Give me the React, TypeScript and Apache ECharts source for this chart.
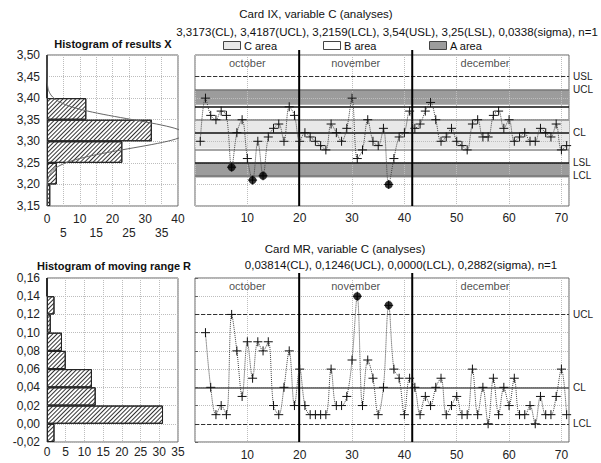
import React, { useEffect, useRef } from 'react';
import * as echarts from 'echarts';

// ---- data ----
const resultsX = [
  3.30, 3.40, 3.36, 3.35, 3.37, 3.36, 3.24, 3.32, 3.35, 3.26,
  3.21, 3.30, 3.22, 3.31, 3.33, 3.34, 3.30, 3.38, 3.36, 3.30,
  3.32, 3.31, 3.30, 3.29, 3.28, 3.34, 3.32, 3.30, 3.33, 3.40,
  3.26, 3.28, 3.35, 3.30, 3.29, 3.33, 3.20, 3.26, 3.31, 3.32,
  3.37, 3.33, 3.34, 3.37, 3.39, 3.35, 3.30, 3.31, 3.33, 3.30,
  3.29, 3.28, 3.34, 3.35, 3.31, 3.31, 3.36, 3.37, 3.33, 3.35,
  3.30, 3.31, 3.32, 3.30, 3.30, 3.33, 3.32, 3.31, 3.34, 3.28, 3.29,
];
// moving range, samples 2..71
const movingRange = [
  0.10, 0.04, 0.01, 0.02, 0.01, 0.12, 0.08, 0.03, 0.09,
  0.05, 0.09, 0.08, 0.09, 0.02, 0.01, 0.04, 0.08, 0.02, 0.06,
  0.02, 0.01, 0.01, 0.01, 0.01, 0.06, 0.02, 0.02, 0.03, 0.07,
  0.14, 0.02, 0.07, 0.05, 0.01, 0.04, 0.13, 0.06, 0.05, 0.01,
  0.05, 0.04, 0.01, 0.03, 0.02, 0.04, 0.05, 0.01, 0.02, 0.03,
  0.01, 0.01, 0.06, 0.01, 0.04, 0.00, 0.05, 0.01, 0.04, 0.02,
  0.05, 0.01, 0.01, 0.02, 0.00, 0.03, 0.01, 0.01, 0.03, 0.06, 0.01,
];
const histXBins = ['3,15-3,20', '3,20-3,25', '3,25-3,30', '3,30-3,35', '3,35-3,40', '3,40-3,45', '3,45-3,50'];
const histXCounts = [1, 3, 23, 32, 12, 0, 0];
const histRBins = ['-0,02-0,00', '0,00-0,02', '0,02-0,04', '0,04-0,06', '0,06-0,08', '0,08-0,10', '0,10-0,12', '0,12-0,14', '0,14-0,16'];
const histRCounts = [2, 31, 13, 12, 5, 4, 1, 2, 0];

const CL_X = 3.3173;
const UCL_X = 3.4187;
const LCL_X = 3.2159;
const SIGMA_X = 0.0338;
const USL_LINE = 3.45;
const LSL = 3.25;
const BIN_X = 0.05;

const CL_R = 0.03814;
const UCL_R = 0.1246;
const LCL_R = 0.0;

const monthNames = ['october', 'november', 'december'];
const monthBreaks = [19.9, 41.5];
const monthLabelAt = [10, 30.7, 55.4];

const FONT = 'Liberation Sans, Arial, sans-serif';
const GRID_LINE = { show: true, lineStyle: { color: '#bdbdbd', type: 'dotted' as const, width: 1 } };
const HATCH = {
  symbol: 'rect',
  symbolSize: 1,
  dashArrayX: [1, 0],
  dashArrayY: [1, 2],
  rotation: -Math.PI / 4,
  color: '#333',
};

const fmtComma = (v: number) => v.toFixed(2).replace('.', ',');

function normalCurve() {
  const pts: number[][] = [];
  const n = resultsX.length;
  for (let y = 3.15; y <= 3.5001; y += 0.0025) {
    const z = (y - CL_X) / SIGMA_X;
    const c = (n * BIN_X * Math.exp(-0.5 * z * z)) / (SIGMA_X * Math.sqrt(2 * Math.PI));
    pts.push([c, y]);
  }
  return pts;
}

function monthLineSeries(xi: number, yi: number, yTop: number, yBot: number) {
  return {
    type: 'custom',
    xAxisIndex: xi,
    yAxisIndex: yi,
    z: 8,
    clip: false,
    silent: true,
    data: monthBreaks.map((b) => [b, yTop]),
    renderItem: (_p: any, api: any) => {
      const p1 = api.coord([api.value(0), yTop]);
      const p2 = api.coord([api.value(0), yBot]);
      return {
        type: 'line',
        shape: { x1: p1[0], y1: p1[1] - 5, x2: p2[0], y2: p2[1] },
        style: { stroke: '#000', lineWidth: 2 },
      };
    },
  };
}

function monthLabelSeries(xi: number, yi: number, yTop: number) {
  return {
    type: 'scatter',
    xAxisIndex: xi,
    yAxisIndex: yi,
    z: 9,
    silent: true,
    symbolSize: 1,
    itemStyle: { color: 'rgba(0,0,0,0)' },
    label: { show: true, position: 'bottom', distance: 2, formatter: '{b}', fontSize: 11, color: '#222', fontFamily: FONT },
    data: monthNames.map((m, i) => ({ name: m, value: [monthLabelAt[i], yTop] })),
  };
}

const plusSymbol = 'path://M0,4H8M4,0V8';

export default function App() {
  const ref = useRef<HTMLDivElement>(null);
  useEffect(() => {
    document.body.style.margin = '0';
    if (!ref.current) return;
    const chart = echarts.init(ref.current, null, { renderer: 'svg' });

    const xPoints = resultsX.map((v, i) => [i + 1, v]);
    const rPoints = movingRange.map((v, i) => [i + 2, v]);
    const xOut = xPoints.filter((p) => p[1] < LSL);
    const rOut = rPoints.filter((p) => p[1] > UCL_R);

    const axisLabelBase = { color: '#222', fontSize: 12, fontFamily: FONT };
    const gridBase = { show: true, borderColor: '#666', borderWidth: 1, containLabel: false };

    const option: any = {
      animation: false,
      textStyle: { fontFamily: FONT },
      grid: [
        { ...gridBase, left: 47, top: 55, width: 131, height: 151 },
        { ...gridBase, left: 195, top: 55, width: 374, height: 151 },
        { ...gridBase, left: 47, top: 278, width: 131, height: 164 },
        { ...gridBase, left: 195, top: 278, width: 374, height: 164 },
      ],
      xAxis: [
        {
          type: 'value', gridIndex: 0, min: 0, max: 40, interval: 5,
          axisLine: { show: false }, axisTick: { show: false }, splitLine: GRID_LINE,
          axisLabel: {
            ...axisLabelBase, margin: 6, lineHeight: 14,
            formatter: (v: number) => (v % 10 === 0 ? String(v) : '\n' + v),
          },
        },
        {
          type: 'value', gridIndex: 1, min: 0, max: 71.45, interval: 10, z: 3,
          axisLine: { show: false }, axisTick: { show: false }, splitLine: GRID_LINE,
          axisLabel: { ...axisLabelBase, margin: 6, formatter: (v: number) => (v > 0 && v <= 70 && v % 10 === 0 ? String(v) : '') },
        },
        {
          type: 'value', gridIndex: 2, min: 0, max: 35, interval: 5,
          axisLine: { show: false }, axisTick: { show: false }, splitLine: GRID_LINE,
          axisLabel: { ...axisLabelBase, margin: 4 },
        },
        {
          type: 'value', gridIndex: 3, min: 0, max: 71.45, interval: 10, z: 3,
          axisLine: { show: false }, axisTick: { show: false }, splitLine: GRID_LINE,
          axisLabel: { ...axisLabelBase, margin: 7, formatter: (v: number) => (v > 0 && v <= 70 && v % 10 === 0 ? String(v) : '') },
        },
      ],
      yAxis: [
        {
          type: 'value', gridIndex: 0, min: 3.15, max: 3.5, interval: 0.05,
          axisLine: { show: false }, axisTick: { show: false }, splitLine: GRID_LINE,
          axisLabel: { ...axisLabelBase, margin: 7, formatter: fmtComma },
        },
        { type: 'category', gridIndex: 0, data: histXBins, show: false },
        {
          type: 'value', gridIndex: 1, min: 3.15, max: 3.5, interval: 0.05, z: 3,
          axisLine: { show: false }, axisTick: { show: false }, axisLabel: { show: false }, splitLine: GRID_LINE,
        },
        {
          type: 'value', gridIndex: 2, min: -0.02, max: 0.16, interval: 0.02,
          axisLine: { show: false }, axisTick: { show: false }, splitLine: GRID_LINE,
          axisLabel: { ...axisLabelBase, margin: 7, formatter: fmtComma },
        },
        { type: 'category', gridIndex: 2, data: histRBins, show: false },
        {
          type: 'value', gridIndex: 3, min: -0.02, max: 0.16, interval: 0.02, z: 3,
          axisLine: { show: false }, axisTick: { show: true, inside: true, length: 3, lineStyle: { color: '#666' } },
          axisLabel: { show: false }, splitLine: GRID_LINE,
        },
      ],
      series: [
        // histogram of X
        {
          type: 'bar', xAxisIndex: 0, yAxisIndex: 1, data: histXCounts, barCategoryGap: '0%',
          itemStyle: { color: '#fff', borderColor: '#222', borderWidth: 1, decal: HATCH },
          silent: true,
        },
        {
          type: 'line', xAxisIndex: 0, yAxisIndex: 0, data: normalCurve(), showSymbol: false,
          lineStyle: { color: '#666', width: 1 }, clip: true, silent: true, z: 4,
        },
        // bands of X chart
        {
          type: 'line', xAxisIndex: 1, yAxisIndex: 2, data: [], z: 1, silent: true,
          markArea: {
            silent: true,
            data: [
              [{ yAxis: LCL_X, itemStyle: { color: '#9c9c9c' } }, { yAxis: CL_X - 2 * SIGMA_X }],
              [{ yAxis: CL_X - SIGMA_X, itemStyle: { color: '#e8e8e8' } }, { yAxis: CL_X + SIGMA_X }],
              [{ yAxis: CL_X + 2 * SIGMA_X, itemStyle: { color: '#9c9c9c' } }, { yAxis: UCL_X }],
            ],
          },
        },
        {
          type: 'line', xAxisIndex: 1, yAxisIndex: 2, data: [], z: 5, silent: true,
          markLine: {
            silent: true, symbol: ['none', 'none'],
            label: { position: 'end', distance: 4, fontSize: 10, color: '#222', fontFamily: FONT },
            data: [
              { yAxis: USL_LINE, lineStyle: { color: '#333', type: 'dashed', width: 1 }, label: { show: true, formatter: 'USL' } },
              { yAxis: UCL_X, lineStyle: { color: '#777', type: 'solid', width: 1.5 }, label: { show: true, formatter: 'UCL' } },
              { yAxis: CL_X + 2 * SIGMA_X, lineStyle: { color: '#111', type: 'solid', width: 1.5 }, label: { show: false } },
              { yAxis: CL_X + SIGMA_X, lineStyle: { color: '#888', type: 'solid', width: 1.5 }, label: { show: false } },
              { yAxis: CL_X, lineStyle: { color: '#111', type: 'solid', width: 1.5 }, label: { show: true, formatter: 'CL' } },
              { yAxis: CL_X - SIGMA_X, lineStyle: { color: '#888', type: 'solid', width: 1.5 }, label: { show: false } },
              { yAxis: LSL, lineStyle: { color: '#111', type: 'solid', width: 1.5 }, label: { show: true, formatter: 'LSL' } },
              { yAxis: LCL_X, lineStyle: { color: '#777', type: 'solid', width: 1.5 }, label: { show: true, formatter: 'LCL' } },
            ],
          },
        },
        monthLineSeries(1, 2, 3.5, 3.15),
        monthLabelSeries(1, 2, 3.5),
        {
          type: 'line', xAxisIndex: 1, yAxisIndex: 2, data: xPoints, z: 10, smooth: 0.35,
          symbol: plusSymbol, symbolSize: 9, showAllSymbol: true,
          itemStyle: { color: 'rgba(0,0,0,0)', borderColor: '#111', borderWidth: 1 },
          lineStyle: { color: '#444', type: 'dotted', width: 1 }, silent: true,
        },
        {
          type: 'scatter', xAxisIndex: 1, yAxisIndex: 2, data: xOut, z: 12, symbol: 'circle', symbolSize: 8,
          itemStyle: { color: '#000' }, silent: true,
        },
        // histogram of MR
        {
          type: 'bar', xAxisIndex: 2, yAxisIndex: 4, data: histRCounts, barCategoryGap: '0%',
          itemStyle: { color: '#fff', borderColor: '#222', borderWidth: 1, decal: HATCH },
          silent: true,
        },
        // MR chart
        {
          type: 'line', xAxisIndex: 3, yAxisIndex: 5, data: [], z: 5, silent: true,
          markLine: {
            silent: true, symbol: ['none', 'none'],
            label: { position: 'end', distance: 4, fontSize: 10, color: '#222', fontFamily: FONT },
            data: [
              { yAxis: UCL_R, lineStyle: { color: '#333', type: 'dashed', width: 1 }, label: { show: true, formatter: 'UCL' } },
              { yAxis: CL_R, lineStyle: { color: '#555', type: 'solid', width: 1.5 }, label: { show: true, formatter: 'CL' } },
              { yAxis: LCL_R, lineStyle: { color: '#333', type: 'dashed', width: 1 }, label: { show: true, formatter: 'LCL' } },
            ],
          },
        },
        monthLineSeries(3, 5, 0.16, -0.02),
        monthLabelSeries(3, 5, 0.16),
        {
          type: 'line', xAxisIndex: 3, yAxisIndex: 5, data: rPoints, z: 10, smooth: 0.35,
          symbol: plusSymbol, symbolSize: 9, showAllSymbol: true,
          itemStyle: { color: 'rgba(0,0,0,0)', borderColor: '#111', borderWidth: 1 },
          lineStyle: { color: '#444', type: 'dotted', width: 1 }, silent: true,
        },
        {
          type: 'scatter', xAxisIndex: 3, yAxisIndex: 5, data: rOut, z: 12, symbol: 'circle', symbolSize: 8,
          itemStyle: { color: '#000' }, silent: true,
        },
      ],
      graphic: [
        { type: 'text', x: 316, y: 14, style: { text: 'Card IX, variable C (analyses)', font: `11.5px ${FONT}`, fill: '#111', textAlign: 'center', textVerticalAlign: 'middle' } },
        { type: 'text', x: 387, y: 31.5, style: { text: '3,3173(CL), 3,4187(UCL), 3,2159(LCL), 3,54(USL), 3,25(LSL), 0,0338(sigma), n=1', font: `11.5px ${FONT}`, fill: '#111', textAlign: 'center', textVerticalAlign: 'middle' } },
        { type: 'rect', shape: { x: 223.5, y: 41.5, width: 17, height: 8 }, style: { fill: '#e8e8e8', stroke: '#444', lineWidth: 1 } },
        { type: 'text', x: 244, y: 45.5, style: { text: 'C area', font: `11px ${FONT}`, fill: '#111', textAlign: 'left', textVerticalAlign: 'middle' } },
        { type: 'rect', shape: { x: 323.5, y: 41.5, width: 17, height: 8 }, style: { fill: '#fff', stroke: '#444', lineWidth: 1 } },
        { type: 'text', x: 344, y: 45.5, style: { text: 'B area', font: `11px ${FONT}`, fill: '#111', textAlign: 'left', textVerticalAlign: 'middle' } },
        { type: 'rect', shape: { x: 429.5, y: 41.5, width: 17, height: 8 }, style: { fill: '#9c9c9c', stroke: '#444', lineWidth: 1 } },
        { type: 'text', x: 450, y: 45.5, style: { text: 'A area', font: `11px ${FONT}`, fill: '#111', textAlign: 'left', textVerticalAlign: 'middle' } },
        { type: 'text', x: 113, y: 43.5, style: { text: 'Histogram of results X', font: `bold 11px ${FONT}`, fill: '#111', textAlign: 'center', textVerticalAlign: 'middle' } },
        { type: 'text', x: 345, y: 248.5, style: { text: 'Card MR, variable C (analyses)', font: `11.5px ${FONT}`, fill: '#111', textAlign: 'center', textVerticalAlign: 'middle' } },
        { type: 'text', x: 401, y: 265, style: { text: '0,03814(CL), 0,1246(UCL), 0,0000(LCL), 0,2882(sigma), n=1', font: `11.5px ${FONT}`, fill: '#111', textAlign: 'center', textVerticalAlign: 'middle' } },
        { type: 'text', x: 114, y: 266, style: { text: 'Histogram of moving range R', font: `bold 11px ${FONT}`, fill: '#111', textAlign: 'center', textVerticalAlign: 'middle' } },
      ],
    };
    chart.setOption(option);
    return () => chart.dispose();
  }, []);
  return <div ref={ref} style={{ width: 601, height: 463 }} />;
}
